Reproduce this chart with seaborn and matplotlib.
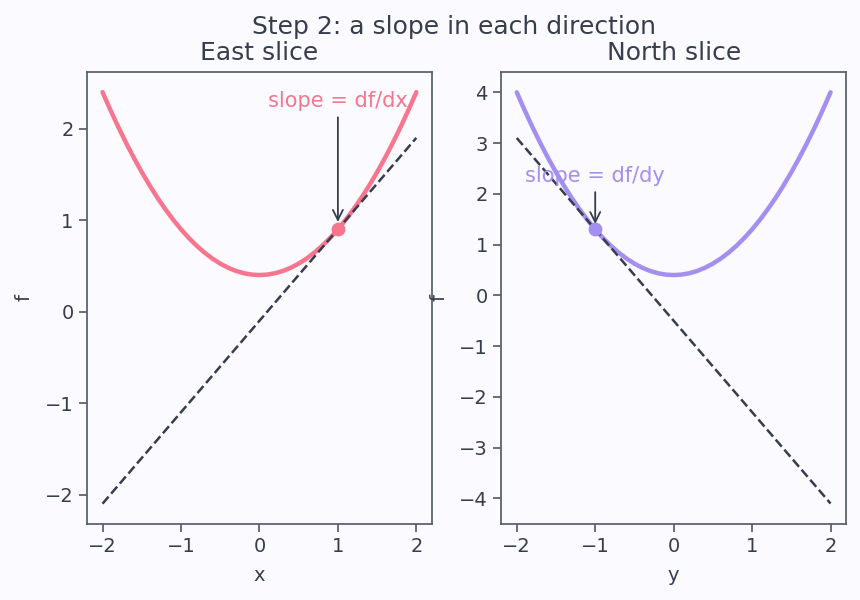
import matplotlib
matplotlib.use("Agg")
import matplotlib.pyplot as plt
import seaborn as sns
import pandas as pd

# sample points along each slice
grid = [-2.0, -1.9, -1.8, -1.7, -1.6, -1.5, -1.4, -1.3, -1.2, -1.1, -1.0,
        -0.9, -0.8, -0.7, -0.6, -0.5, -0.4, -0.3, -0.2, -0.1, 0.0,
        0.1, 0.2, 0.3, 0.4, 0.5, 0.6, 0.7, 0.8, 0.9, 1.0,
        1.1, 1.2, 1.3, 1.4, 1.5, 1.6, 1.7, 1.8, 1.9, 2.0]
east_f = [2.4, 2.205, 2.02, 1.845, 1.68, 1.525, 1.38, 1.245, 1.12, 1.005, 0.9,
          0.805, 0.72, 0.645, 0.58, 0.525, 0.48, 0.445, 0.42, 0.405, 0.4,
          0.405, 0.42, 0.445, 0.48, 0.525, 0.58, 0.645, 0.72, 0.805, 0.9,
          1.005, 1.12, 1.245, 1.38, 1.525, 1.68, 1.845, 2.02, 2.205, 2.4]
north_f = [4.0, 3.649, 3.316, 3.001, 2.704, 2.425, 2.164, 1.921, 1.696, 1.489, 1.3,
           1.129, 0.976, 0.841, 0.724, 0.625, 0.544, 0.481, 0.436, 0.409, 0.4,
           0.409, 0.436, 0.481, 0.544, 0.625, 0.724, 0.841, 0.976, 1.129, 1.3,
           1.489, 1.696, 1.921, 2.164, 2.425, 2.704, 3.001, 3.316, 3.649, 4.0]

# tangent lines
tan_x = [-2, 2]
east_tan = [-2.1, 1.9]
north_tan = [3.1, -4.1]

# points of tangency
east_pt = (1, 0.9)
north_pt = (-1, 1.3)

ink = "#363d4d"
bg = "#fafaff"
pink = "#f7768e"
purple = "#a38ff0"

sns.set_theme(style="ticks", rc={
    "figure.facecolor": bg, "axes.facecolor": bg,
    "axes.edgecolor": "#565d6d", "axes.labelcolor": ink,
    "text.color": ink, "xtick.color": "#565d6d", "ytick.color": "#565d6d",
    "xtick.labelcolor": ink, "ytick.labelcolor": ink,
    "font.size": 13, "axes.labelsize": 14, "axes.titlesize": 18,
    "xtick.labelsize": 14, "ytick.labelsize": 14,
})
plt.rcParams['font.family'] = ['DejaVu Sans']

fig, (ax1, ax2) = plt.subplots(1, 2, figsize=(8.6, 6), dpi=100)
fig.subplots_adjust(left=0.101, right=0.984, top=0.88, bottom=0.127, wspace=0.2)

east = pd.DataFrame({"x": grid, "f": east_f})
north = pd.DataFrame({"y": grid, "f": north_f})

sns.lineplot(data=east, x="x", y="f", ax=ax1, color=pink, lw=3.2)
sns.lineplot(x=tan_x, y=east_tan, ax=ax1, color=ink, lw=1.8, linestyle="--")
ax1.scatter([east_pt[0]], [east_pt[1]], s=80, color=pink, zorder=5)
ax1.annotate("slope = df/dx", xy=(east_pt[0], east_pt[1] + 0.05),
             xytext=(east_pt[0], 2.3), ha="center", va="center",
             color=pink, fontsize=15,
             arrowprops=dict(arrowstyle="->", color=ink, lw=1.3, mutation_scale=18))
ax1.set_title("East slice", pad=9)
ax1.set_xlim(-2.2, 2.2)
ax1.set_ylim(-2.32, 2.62)
ax1.set_xticks([-2, -1, 0, 1, 2])
ax1.set_yticks([-2, -1, 0, 1, 2])
ax1.set_xlabel("x", labelpad=7)
ax1.set_ylabel("f", labelpad=8)

sns.lineplot(data=north, x="y", y="f", ax=ax2, color=purple, lw=3.2)
sns.lineplot(x=tan_x, y=north_tan, ax=ax2, color=ink, lw=1.8, linestyle="--")
ax2.scatter([north_pt[0]], [north_pt[1]], s=80, color=purple, zorder=5)
ax2.annotate("slope = df/dy", xy=(north_pt[0], north_pt[1] + 0.05),
             xytext=(north_pt[0], 2.35), ha="center", va="center",
             color=purple, fontsize=15,
             arrowprops=dict(arrowstyle="->", color=ink, lw=1.3, mutation_scale=18))
ax2.set_title("North slice", pad=9)
ax2.set_xlim(-2.2, 2.2)
ax2.set_ylim(-4.5, 4.4)
ax2.set_xticks([-2, -1, 0, 1, 2])
ax2.set_yticks([-4, -3, -2, -1, 0, 1, 2, 3, 4])
ax2.set_xlabel("y", labelpad=7)
ax2.set_ylabel("f", labelpad=8)

fig.suptitle("Step 2: a slope in each direction", fontsize=18, x=0.528, y=0.975)
fig.savefig("out.png", facecolor=bg)
